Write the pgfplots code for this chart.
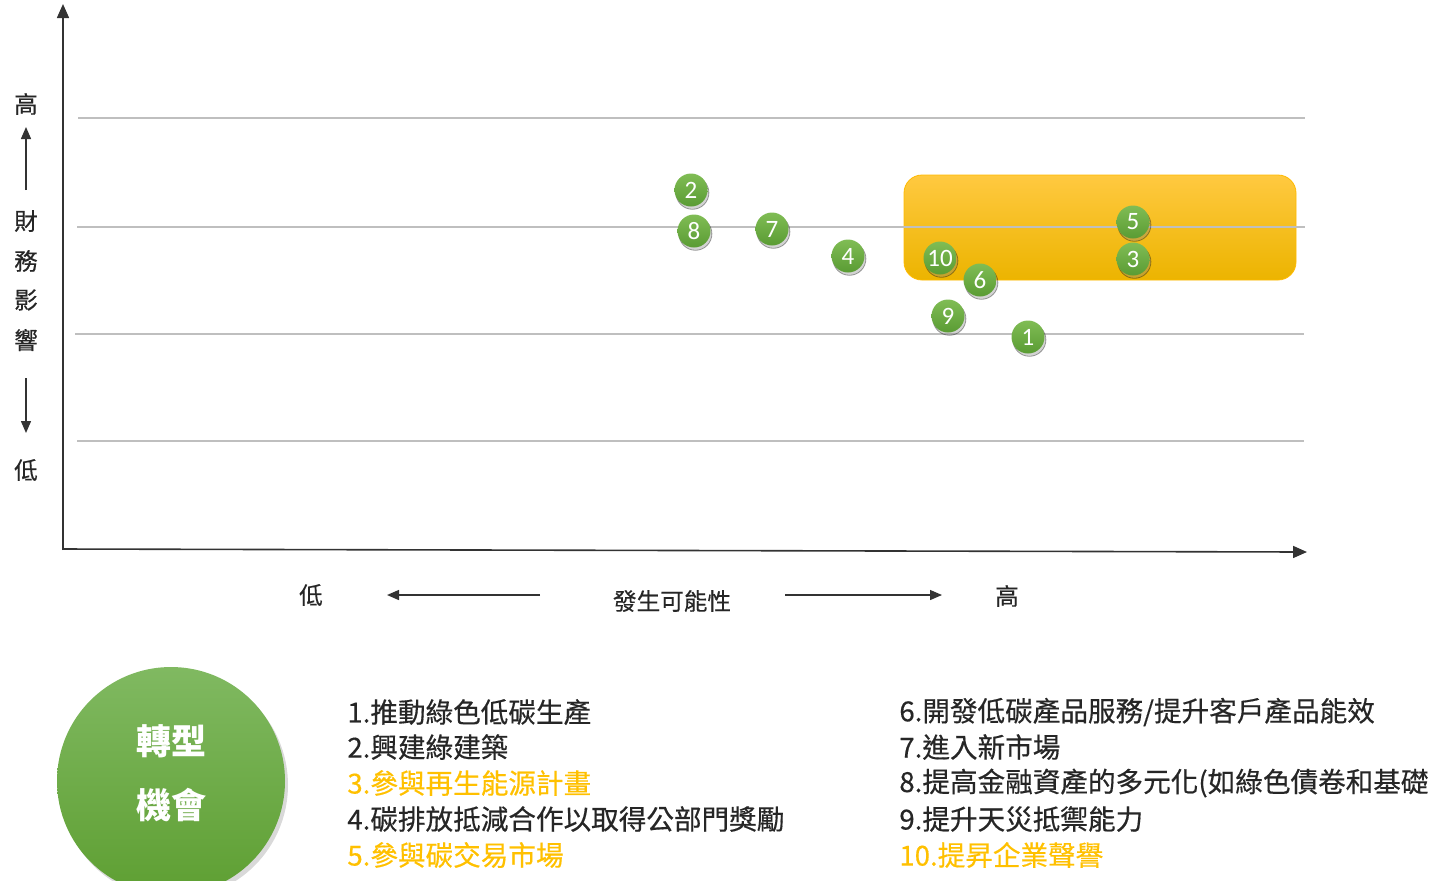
\documentclass[border=0pt]{standalone}
\usepackage{pgfplots}
\pgfplotsset{compat=1.18}
\usepackage{fontspec}
\setmainfont{Noto Sans CJK TC}
\newfontfamily\medfont{Noto Sans CJK TC}[FakeBold=0.45]
\newfontfamily\numfont{Carlito}
\usetikzlibrary{arrows.meta,shadows}
\definecolor{gtop}{HTML}{80BC55}
\definecolor{gbot}{HTML}{5A9B33}
\definecolor{btop}{HTML}{80B961}
\definecolor{bbot}{HTML}{5E9F32}
\definecolor{ytop}{HTML}{FFC940}
\definecolor{ymid}{HTML}{FFC000}
\definecolor{ybot}{HTML}{ECB400}
\definecolor{txt}{HTML}{262626}
\definecolor{hl}{HTML}{FFC000}
\definecolor{gridc}{HTML}{BFBFBF}
\definecolor{axisc}{HTML}{333333}
\begin{document}
\begin{tikzpicture}
\useasboundingbox (0,0) rectangle (717pt,440pt);
\clip (0,0) rectangle (717pt,440pt);
\begin{axis}[at={(0,0)}, anchor=south west, width=717pt, height=440pt,
  scale only axis, xmin=0, xmax=1434, ymin=0, ymax=880, y dir=reverse,
  hide axis, clip=false]
% highlighted zone
\shade[top color=ytop, middle color=ymid, bottom color=ybot, rounded corners=9pt]
  (axis cs:904,175) rectangle (axis cs:1296,280);
\draw[ymid!90!orange, line width=0.4pt, rounded corners=9pt]
  (axis cs:904,175) rectangle (axis cs:1296,280);
% grid lines
\draw[gridc, line width=0.6pt] (axis cs:78,118) -- (axis cs:1305,118);
\draw[gridc, line width=0.6pt] (axis cs:77,227) -- (axis cs:1305,227);
\draw[gridc, line width=0.6pt] (axis cs:75,334) -- (axis cs:1304,334);
\draw[gridc, line width=0.6pt] (axis cs:77,441) -- (axis cs:1304,441);
% axes
\draw[axisc, line width=0.8pt, -{Triangle[length=7pt,width=6pt]}] (axis cs:63,550) -- (axis cs:63,4);
\draw[axisc, line width=0.8pt, -{Triangle[length=7pt,width=6pt]}] (axis cs:63,549) -- (axis cs:1307,552);
% axis labels
\begin{scope}[every node/.style={text=txt, font=\medfont\fontsize{11.8}{12}\selectfont, inner sep=0pt}]
\node at (axis cs:26,104) {高};
\node at (axis cs:26,221) {財};
\node at (axis cs:26,261) {務};
\node at (axis cs:26,300) {影};
\node at (axis cs:26,340) {響};
\node at (axis cs:26,470) {低};
\node at (axis cs:311,595) {低};
\node at (axis cs:672,601) {發生可能性};
\node at (axis cs:1007,596) {高};
\end{scope}
\draw[axisc, line width=0.7pt, -{Triangle[length=6pt,width=5pt]}] (axis cs:26,190) -- (axis cs:26,127);
\draw[axisc, line width=0.7pt, -{Triangle[length=6pt,width=5pt]}] (axis cs:26,378) -- (axis cs:26,433);
\draw[axisc, line width=0.7pt, -{Triangle[length=6pt,width=5pt]}] (axis cs:540,595) -- (axis cs:387,595);
\draw[axisc, line width=0.7pt, -{Triangle[length=6pt,width=5pt]}] (axis cs:785,595) -- (axis cs:942,595);
% data points
\addplot[only marks, mark=none, nodes near coords, point meta=explicit symbolic,
  nodes near coords align=center,
  every node near coord/.style={circle, minimum size=16.5pt, inner sep=0pt,
    top color=gtop, bottom color=gbot, text=white, anchor=center,
    font=\numfont\fontsize{12.5}{13}\selectfont,
    drop shadow={shadow xshift=0.7pt, shadow yshift=-1.4pt, opacity=0.35}}]
  table[meta=label] {
x y label
1028 337 1
691 190 2
1133 259 3
848 256 4
1133 222 5
980 280 6
772 229 7
694 231 8
948 316 9
940 258 10
};
% big circle
\shade[top color=btop, bottom color=bbot, drop shadow={shadow xshift=1.5pt, shadow yshift=-2pt, opacity=0.3}]
  (axis cs:171,781) circle[radius=57pt];
\node[text=white, font=\bfseries\fontsize{17.5}{18}\selectfont] at (axis cs:171,741) {轉型};
\node[text=white, font=\bfseries\fontsize{17.5}{18}\selectfont] at (axis cs:171,805) {機會};
% lists
\begin{scope}[every node/.style={anchor=west, inner sep=0pt, font=\medfont\fontsize{13.8}{14}\selectfont}]
\node[text=txt] at (axis cs:347,712) {1.推動綠色低碳生產};
\node[text=txt] at (axis cs:347,747) {2.興建綠建築};
\node[text=hl] at (axis cs:347,783) {3.參與再生能源計畫};
\node[text=txt] at (axis cs:347,819) {4.碳排放抵減合作以取得公部門獎勵};
\node[text=hl] at (axis cs:347,855) {5.參與碳交易市場};
\node[text=txt] at (axis cs:899,712) {6.開發低碳產品服務/提升客戶產品能效};
\node[text=txt] at (axis cs:899,747) {7.進入新市場};
\node[text=txt] at (axis cs:899,783) {8.提高金融資產的多元化(如綠色債卷和基礎};
\node[text=txt] at (axis cs:899,819) {9.提升天災抵禦能力};
\node[text=hl] at (axis cs:899,855) {10.提昇企業聲譽};
\end{scope}
\end{axis}
\end{tikzpicture}
\end{document}
